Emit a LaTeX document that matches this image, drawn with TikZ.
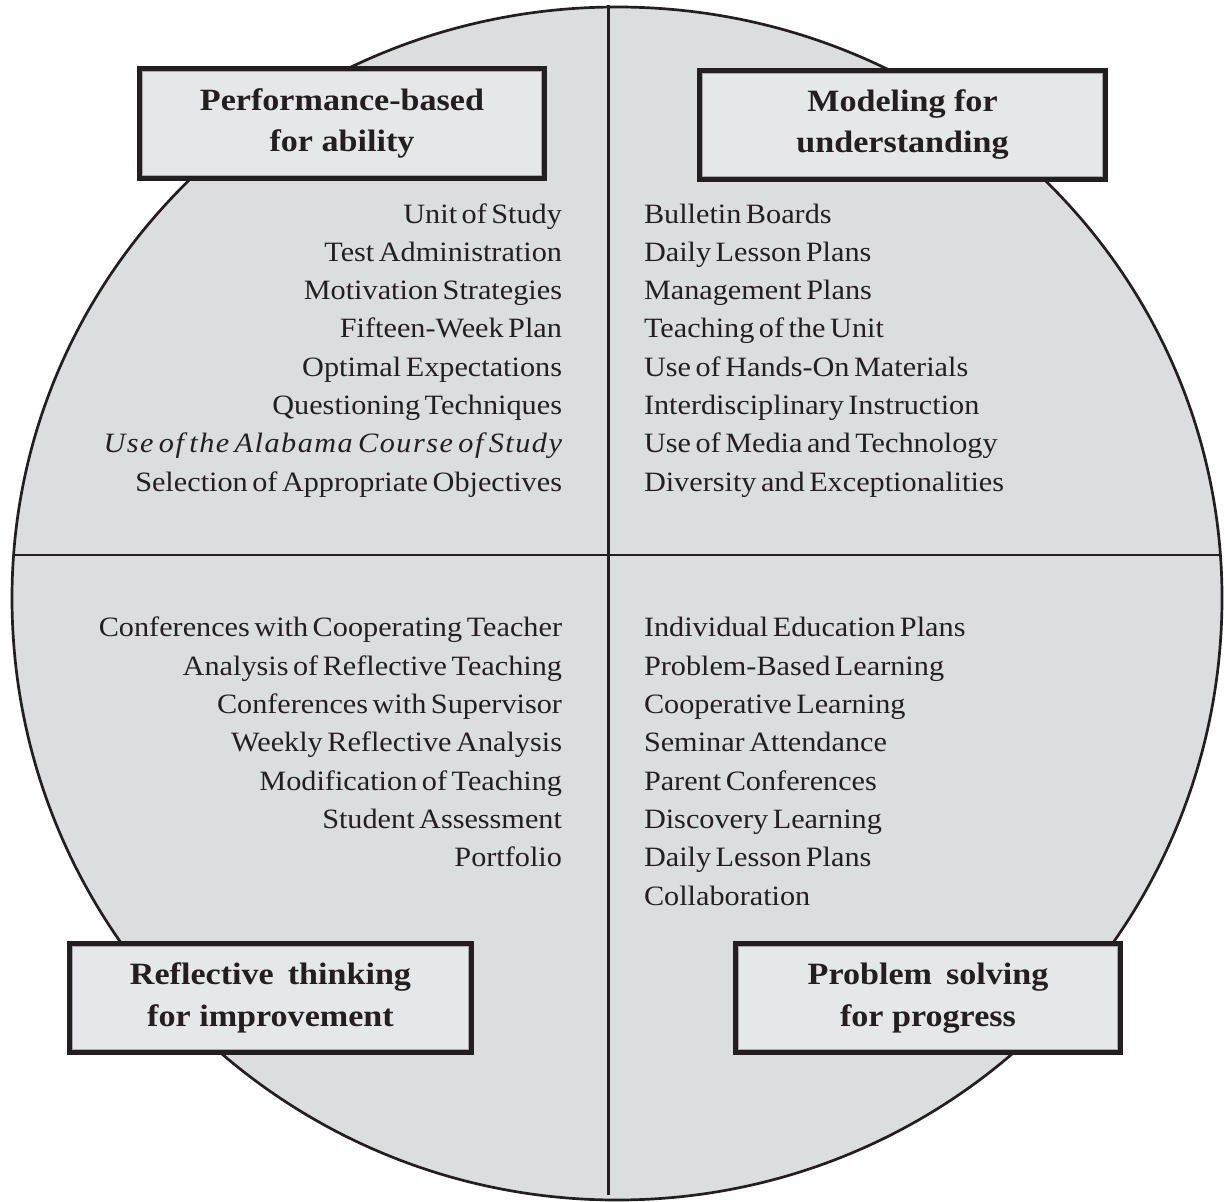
\documentclass[tikz,border=0pt]{standalone}
\usepackage{fontspec}
\setmainfont[FakeStretch=1.08, WordSpace=0.6]{Liberation Serif}
\newfontfamily\titlefam[FakeStretch=1.1]{Liberation Serif}
\newcommand\alabit[1]{{\itshape\addfontfeature{LetterSpace=5.3}#1}}
\definecolor{ink}{HTML}{231F20}
\definecolor{disk}{HTML}{DCDDDF}
\definecolor{boxfill}{HTML}{E6E7E8}
\definecolor{innerline}{HTML}{A7A9AC}
\tikzset{
  item/.style={font=\fontsize{28}{30}\selectfont, text=ink, inner sep=0pt, outer sep=0pt},
  titlebox/.style={draw=ink, line width=4.6pt, fill=boxfill, outer sep=0pt, inner sep=0pt,
    align=center, text=ink, font=\titlefam\bfseries\fontsize{31}{41}\selectfont},
  innerrim/.style={draw=innerline, line width=1pt},
  divider/.style={draw=ink, line width=2.4pt},
  rim/.style={draw=ink, line width=2.7pt},
}
\begin{document}
\begin{tikzpicture}[x=1pt, y=1pt]
\useasboundingbox (0,0) rectangle (1225,-1201);
% disk
\fill[disk] (12,-598) arc[start angle=180, end angle=0, x radius=605, y radius=591]
  arc[start angle=0, end angle=-180, x radius=605, y radius=602] -- cycle;
\begin{scope}
  \clip (12,-598) arc[start angle=180, end angle=0, x radius=605, y radius=591]
    arc[start angle=0, end angle=-180, x radius=605, y radius=602] -- cycle;
  \coordinate (hl) at (0,-555);
  \coordinate (hr) at (1225,-555);
  \draw[divider] (hl) -- (hr);
\end{scope}
\draw[rim] (12,-598) arc[start angle=180, end angle=0, x radius=605, y radius=591]
  arc[start angle=0, end angle=-180, x radius=605, y radius=602] -- cycle;
\coordinate (vt) at (608.5,-5);
\coordinate (vb) at (608.5,-1195);
\draw[divider] (vt) -- (vb);
% title boxes
\node[titlebox, minimum width=405.4pt, minimum height=110.4pt] (tlbox) at (342,-123.5)
  {Performance-based\\for ability};
\node[titlebox, minimum width=406.4pt, minimum height=109.4pt] (trbox) at (902.5,-125)
  {Modeling for\\understanding};
\node[titlebox, minimum width=402.4pt, minimum height=109.4pt] (blbox) at (270.5,-998)
  {\raisebox{2pt}{Reflective\hspace{0.45em}thinking}\\[-1pt]for improvement};
\node[titlebox, minimum width=385.4pt, minimum height=109.4pt] (brbox) at (928,-998)
  {\raisebox{2pt}{Problem\hspace{0.45em}solving}\\[-1pt]for progress};
\foreach \b in {tlbox,trbox,blbox,brbox}
  \draw[innerrim] ([shift={(2.9,-2.9)}]\b.north west) rectangle ([shift={(-2.9,2.9)}]\b.south east);
% items
\foreach \t [count=\i] in {Unit of Study, Test Administration, Motivation Strategies,
  Fifteen-Week Plan, Optimal Expectations, Questioning Techniques,
  \alabit{Use of the Alabama Course of Study}, Selection of Appropriate Objectives}
  \node[item, anchor=base east] (tl\i) at (562,{-223-38.3*(\i-1)}) {\t};
\foreach \t [count=\i] in {Bulletin Boards, Daily Lesson Plans, Management Plans,
  Teaching of the Unit, Use of Hands-On Materials, Interdisciplinary Instruction,
  Use of Media and Technology, Diversity and Exceptionalities}
  \node[item, anchor=base west] (tr\i) at (644,{-223-38.3*(\i-1)}) {\t};
\foreach \t [count=\i] in {Conferences with Cooperating Teacher, Analysis of Reflective Teaching,
  Conferences with Supervisor, Weekly Reflective Analysis, Modification of Teaching,
  Student Assessment, Portfolio}
  \node[item, anchor=base east] (bl\i) at (562,{-636.9-38.3*(\i-1)}) {\t};
\foreach \t [count=\i] in {Individual Education Plans, Problem-Based Learning,
  Cooperative Learning, Seminar Attendance, Parent Conferences, Discovery Learning,
  Daily Lesson Plans, Collaboration}
  \node[item, anchor=base west] (br\i) at (644,{-636.9-38.3*(\i-1)}) {\t};
\end{tikzpicture}
\end{document}
